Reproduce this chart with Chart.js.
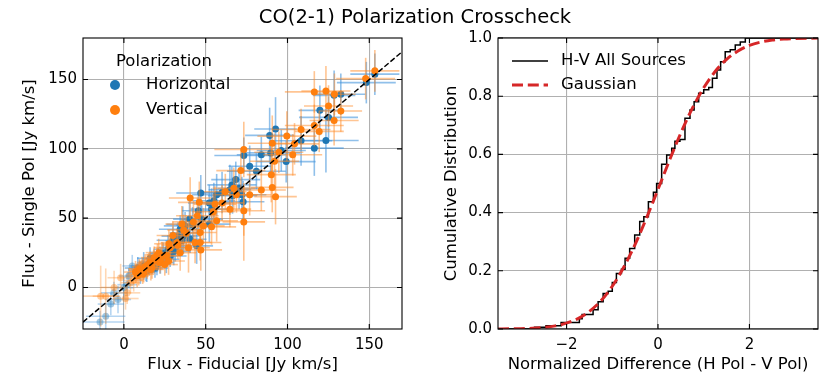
<!DOCTYPE html>
<html><head><meta charset="utf-8">
<script src="https://cdn.jsdelivr.net/npm/chart.js@4.4.0/dist/chart.umd.min.js"></script>
<style>
html,body{margin:0;padding:0;background:#fff;}
#wrap{position:relative;width:830px;height:388px;overflow:hidden;background:#fff;}
canvas{position:absolute;left:0;top:0;}
#title{position:absolute;left:0;width:830px;top:6px;line-height:22px;text-align:center;font-family:"DejaVu Sans";font-size:19.5px;color:#000;}
</style></head><body>
<div id="wrap">
<canvas id="left" width="830" height="388"></canvas>
<canvas id="right" width="830" height="388"></canvas>
<div id="title">CO(2-1) Polarization Crosscheck</div>
</div>
<script>
// ---------- Left panel: flux comparison ----------
const leftXTicks = [0, 50, 100, 150];
const leftYTicks = [0, 50, 100, 150];
const oneToOne = [-25, 170];

// Horizontal polarization (blue)
const hFlux = [153.4,148.2,128.5,132.6,119.8,125.1,123.5,116.4,108.3,92.7, 89.1,89.7,73.3,96.2,99.2,84.0,76.9,81.0,68.4,70.4, 66.4,72.9,64.8,72.1,47.0,56.7,52.2,53.6,45.5,52.2, 47.6,40.1,37.4,34.4,36.4,35.4,44.5,40.5,31.4,28.3, 25.9,22.3,17.2,12.1,10.1,20.2,14.0,24.0,30.0,16.0, 60.0,55.0,66.0,38.0,42.0,8.5,19.0, 9.5,11.5,13.5,15.5,18.5,21.0,27.0,33.0,30.5,36.0];
const hSingle = [153.9,147.8,138.6,139.4,127.8,122.7,106.0,100.5,105.8,114.3, 109.7,97.1,95.2,98.8,90.8,95.7,87.4,83.8,77.8,71.5, 66.2,61.8,70.5,66.9,68.1,66.9,60.9,56.5,55.3,45.7, 49.3,49.3,44.4,42.0,37.2,33.6,30.0,34.8,28.7,22.7, 20.3,17.9,17.9,15.5,10.6,16.7,12.0,24.5,34.0,21.0, 68.5,62.5,74.0,39.5,45.0,14.0,14.0, 12.5,14.5,11.5,16.5,18.5,20.5,27.5,37.0,26.0,45.5];
const hFluxErr = [15,18,13,15,13,18,20,18,19,13, 15,18,18,15,18,15,13,18,15,13, 15,13,13,15,15,15,13,13,10,13, 13,10,13,13,10,10,10,10,10,10, 8,8,8,8,8,8,7,8,10,8, 13,13,15,10,10,8,8, 7,7,7,8,8,8,9,10,10,10];
const hSingleErr = [15,15,18,15,18,15,23,20,18,23, 20,15,13,15,15,13,15,13,13,15, 13,15,18,13,13,15,13,15,13,13, 10,13,10,10,13,10,13,10,10,8, 10,8,8,10,8,8,8,8,10,8, 15,13,13,10,13,8,7, 7,7,7,8,8,8,9,10,10,13];
const hFaintFlux = [-14.6,-11.1,-3.6,-6.1,0.0,3.0,5.1,-8.0,2.0];
const hFaintSingle = [-24.9,-20.8,-8.7,-3.9,-0.2,8.2,15.5,-12.0,2.0];
const hFaintFluxErr = [15,12,8,8,6,6,6,8,6];
const hFaintSingleErr = [8,10,10,8,8,6,8,8,8];

// Vertical polarization (orange)
const vFlux = [147.8,153.4,116.4,123.5,128.7,125.1,132.6,128.5,116.4,119.4, 108.3,99.6,104.3,90.7,73.3,94.7,103.2,92.1,71.5,90.1, 90.7,84.0,92.7,67.2,68.8,76.9,73.3,64.8,73.3,40.5, 55.7,46.1,54.7,44.9,56.7,42.5,48.6,53.6,46.6,35.4, 38.1,39.5,43.5,46.6,47.0,32.4,34.4,28.3,27.3,23.3, 21.3,20.2,18.2,15.2,14.2,11.1,9.1,8.1,7.1,12.1, 17.2,10.0,13.0,16.0,22.0,26.0,25.0,60.0,62.0, 10.5,12.5,14.5,18.5,9.5,11.5,20.5,16.5,22.5,27.5,30.0,33.0,36.5];
const vSingle = [150.7,156.3,141.1,141.8,139.4,130.9,127.3,120.5,116.9,112.6, 114.0,109.2,103.6,104.1,99.5,97.6,95.7,91.1,84.3,81.4, 72.2,70.3,65.5,71.5,66.9,66.9,55.3,56.5,47.3,64.5, 60.1,61.4,54.6,51.7,48.1,47.3,44.4,43.7,39.6,45.7, 39.1,28.7,32.4,32.4,27.1,32.4,25.1,28.7,19.1,22.7, 25.1,20.3,19.1,16.7,14.3,13.0,9.4,8.2,11.1,10.6, 14.3,12.0,15.0,18.0,18.0,23.0,16.5,61.0,69.0, 11.5,13.5,16.0,21.5,13.5,9.5,23.5,13.0,20.5,31.5,37.5,30.5,41.5];
const vFluxErr = [18,15,18,15,13,15,13,15,18,15, 18,18,15,15,18,15,18,15,15,15, 13,15,13,13,13,13,13,13,13,13, 13,13,13,13,13,13,13,15,10,10, 10,13,10,13,13,10,10,10,10,8, 8,8,8,8,8,8,7,7,7,7, 8,7,8,8,8,8,8,13,13, 7,7,8,8,7,7,8,8,8,9,10,10,10];
const vSingleErr = [15,15,15,18,15,15,15,18,15,15, 15,18,15,20,20,15,15,20,15,20, 18,15,20,15,13,15,18,13,28,15, 13,15,13,13,15,15,13,13,13,13, 13,18,15,13,15,10,13,10,10,10, 10,8,8,8,8,8,8,8,8,7, 8,7,8,8,8,8,8,13,13, 7,7,8,8,7,7,8,8,8,10,10,10,11];
const vFaintFlux = [-14.2,-11.1,2.0,4.0,-2.0,6.0,-6.0,1.0];
const vFaintSingle = [-6.3,-6.3,-3.9,3.4,7.0,5.0,0.0,-8.0];
const vFaintFluxErr = [12,8,8,6,8,6,8,8];
const vFaintSingleErr = [22,20,8,8,10,8,12,8];

// ---------- Right panel: cumulative distribution ----------
const rightXTicks = [-2, 0, 2];
const rightXLabels = ['\u22122', '0', '2'];
const rightYTicks = [0, 0.2, 0.4, 0.6, 0.8, 1.0];
const rightYLabels = ['0.0', '0.2', '0.4', '0.6', '0.8', '1.0'];
// empirical CDF steps (position of step, level after step)
const stepX = [-3.5,-2.70,-2.45,-2.12,-1.72,-1.66,-1.42,-1.31,-1.20,-1.09,-1.00,-0.91,-0.80,-0.72,-0.62,-0.51,-0.40,-0.31,-0.21,-0.10,-0.03,0.08,0.19,0.30,0.37,0.48,0.59,0.70,0.79,0.89,1.00,1.11,1.19,1.29,1.37,1.47,1.58,1.69,1.80,1.91,3.5];
const stepY = [0,0.006,0.011,0.022,0.035,0.050,0.066,0.094,0.122,0.130,0.160,0.191,0.205,0.243,0.277,0.323,0.369,0.386,0.437,0.470,0.500,0.566,0.598,0.621,0.645,0.651,0.724,0.753,0.781,0.810,0.822,0.830,0.862,0.890,0.918,0.953,0.960,0.976,0.986,1.0,1.0];
// Gaussian reference curve
const gaussX = [-3.5,-3.25,-3.0,-2.75,-2.5,-2.25,-2.0,-1.75,-1.5,-1.25,-1.0,-0.75,-0.5,-0.25,0.0,0.25,0.5,0.75,1.0,1.25,1.5,1.75,2.0,2.25,2.5,2.75,3.0,3.25,3.5];
const gaussY = [0.0002,0.0005,0.0011,0.0026,0.0054,0.0107,0.0202,0.0359,0.0606,0.0968,0.1469,0.2119,0.2912,0.3821,0.4801,0.5793,0.6736,0.7580,0.8289,0.8849,0.9265,0.9554,0.9744,0.9861,0.9929,0.9965,0.9984,0.9993,0.9997];

const FONT = '"DejaVu Sans"';
const pts = (xs, ys) => xs.map((v, i) => ({x: v, y: ys[i]}));

const errorBars = {
  id: 'errorBars',
  beforeDatasetDraw(chart, args) {
    const ds = chart.data.datasets[args.index];
    if (!ds.errX) return;
    const {ctx, chartArea: a, scales: {x, y}} = chart;
    ctx.save();
    ctx.beginPath(); ctx.rect(a.left, a.top, a.width, a.height); ctx.clip();
    ctx.strokeStyle = ds.errColor; ctx.lineWidth = 1.6;
    ds.data.forEach((p, i) => {
      const px = x.getPixelForValue(p.x), py = y.getPixelForValue(p.y);
      ctx.beginPath();
      ctx.moveTo(x.getPixelForValue(p.x - ds.errX[i]), py);
      ctx.lineTo(x.getPixelForValue(p.x + ds.errX[i]), py);
      ctx.stroke();
      ctx.beginPath();
      ctx.moveTo(px, y.getPixelForValue(p.y - ds.errY[i]));
      ctx.lineTo(px, y.getPixelForValue(p.y + ds.errY[i]));
      ctx.stroke();
    });
    ctx.restore();
  }
};

const frame = {
  id: 'frame',
  afterDraw(chart) {
    const {ctx, chartArea: a, scales: {x, y}} = chart;
    ctx.save();
    ctx.strokeStyle = '#000'; ctx.lineWidth = 1.1;
    ctx.strokeRect(a.left, a.top, a.right - a.left, a.bottom - a.top);
    const L = 5;
    ctx.beginPath();
    x.ticks.forEach(t => {
      const p = x.getPixelForValue(t.value);
      ctx.moveTo(p, a.bottom); ctx.lineTo(p, a.bottom - L);
      ctx.moveTo(p, a.top); ctx.lineTo(p, a.top + L);
    });
    y.ticks.forEach(t => {
      const p = y.getPixelForValue(t.value);
      ctx.moveTo(a.left, p); ctx.lineTo(a.left + L, p);
      ctx.moveTo(a.right, p); ctx.lineTo(a.right - L, p);
    });
    ctx.stroke();
    ctx.restore();
  }
};

const panelLegend = {
  id: 'panelLegend',
  afterDraw(chart, args, opts) {
    if (!opts || !opts.items) return;
    const {ctx, chartArea: a} = chart;
    ctx.save();
    ctx.font = '16.5px ' + FONT; ctx.textBaseline = 'middle'; ctx.textAlign = 'left';
    if (opts.title) { ctx.fillStyle = '#000'; ctx.fillText(opts.title, a.left + opts.titleDx, a.top + opts.titleDy); }
    opts.items.forEach(it => {
      const yy = a.top + it.dy;
      if (it.kind === 'marker') {
        ctx.beginPath(); ctx.arc(a.left + it.hx, yy, 5, 0, 2 * Math.PI);
        ctx.fillStyle = it.color; ctx.fill();
      } else {
        ctx.beginPath(); ctx.setLineDash(it.dash || []);
        ctx.strokeStyle = it.color; ctx.lineWidth = it.lw;
        ctx.moveTo(a.left + it.hx0, yy); ctx.lineTo(a.left + it.hx1, yy); ctx.stroke();
        ctx.setLineDash([]);
      }
      ctx.fillStyle = '#000'; ctx.fillText(it.text, a.left + it.tx, yy);
    });
    ctx.restore();
  }
};

function axis(opts) {
  return {
    type: 'linear', min: opts.min, max: opts.max,
    afterBuildTicks(s) { s.ticks = opts.ticks.map(v => ({value: v})); },
    afterFit(s) { if (opts.width) s.width = opts.width; if (opts.height) s.height = opts.height; },
    grid: {color: '#b0b0b0', lineWidth: 1.1, drawTicks: false},
    border: {display: false},
    ticks: {padding: opts.pad, color: '#000', font: {family: FONT, size: 15},
      callback: (v, i) => opts.labels ? opts.labels[opts.ticks.indexOf(v)] : String(v)},
    title: {display: true, text: opts.title, color: '#000', font: {family: FONT, size: 16.5}, padding: opts.titlePad}
  };
}

const common = {responsive: false, animation: false, devicePixelRatio: 1, events: []};

new Chart(document.getElementById('left'), {
  type: 'scatter',
  data: {datasets: [
    {label: '1:1', data: pts(oneToOne, oneToOne), showLine: true, borderColor: '#000', borderWidth: 1.5, borderDash: [5.5, 2.4], pointRadius: 0, order: 0},
    {label: 'Vertical', data: pts(vFlux, vSingle), errX: vFluxErr, errY: vSingleErr, errColor: 'rgba(255,140,40,0.5)', backgroundColor: '#ff7f0e', borderWidth: 0, pointRadius: 3.5, order: 1},
    {label: 'Vertical faint', data: pts(vFaintFlux, vFaintSingle), errX: vFaintFluxErr, errY: vFaintSingleErr, errColor: 'rgba(255,140,40,0.35)', backgroundColor: 'rgba(255,127,14,0.4)', borderWidth: 0, pointRadius: 3.5, order: 2},
    {label: 'Horizontal', data: pts(hFlux, hSingle), errX: hFluxErr, errY: hSingleErr, errColor: 'rgba(70,150,220,0.6)', backgroundColor: '#1f77b4', borderWidth: 0, pointRadius: 3.5, order: 3},
    {label: 'Horizontal faint', data: pts(hFaintFlux, hFaintSingle), errX: hFaintFluxErr, errY: hFaintSingleErr, errColor: 'rgba(70,150,220,0.4)', backgroundColor: 'rgba(31,119,180,0.4)', borderWidth: 0, pointRadius: 3.5, order: 4}
  ]},
  options: Object.assign({}, common, {
    layout: {padding: {left: 0, right: 428, top: 38, bottom: 0}},
    plugins: {legend: {display: false}, tooltip: {enabled: false},
      panelLegend: {title: 'Polarization', titleDx: 33, titleDy: 24, items: [
        {kind: 'marker', color: '#1f77b4', hx: 32, dy: 47, tx: 63, text: 'Horizontal'},
        {kind: 'marker', color: '#ff7f0e', hx: 32, dy: 72, tx: 63, text: 'Vertical'}
      ]}},
    scales: {
      x: axis({min: -25, max: 170, ticks: leftXTicks, height: 59, pad: 7, title: 'Flux - Fiducial [Jy km/s]', titlePad: {top: 0, bottom: 13}}),
      y: axis({min: -30, max: 180, ticks: leftYTicks, width: 83, pad: 6, title: 'Flux - Single Pol [Jy km/s]', titlePad: {top: 20, bottom: 0}})
    }
  }),
  plugins: [errorBars, frame, panelLegend]
});

new Chart(document.getElementById('right'), {
  type: 'scatter',
  data: {datasets: [
    {label: 'Gaussian', data: pts(gaussX, gaussY), showLine: true, borderColor: '#d62728', borderWidth: 3, borderDash: [11, 4.8], pointRadius: 0, cubicInterpolationMode: 'monotone', order: 0},
    {label: 'H-V All Sources', data: pts(stepX, stepY), showLine: true, stepped: 'before', borderColor: '#000', borderWidth: 1.5, pointRadius: 0, order: 1}
  ]},
  options: Object.assign({}, common, {
    layout: {padding: {left: 415, right: 12, top: 38, bottom: 0}},
    plugins: {legend: {display: false}, tooltip: {enabled: false},
      panelLegend: {items: [
        {kind: 'line', color: '#000', lw: 1.5, hx0: 14, hx1: 50, dy: 23, tx: 63, text: 'H-V All Sources'},
        {kind: 'line', color: '#d62728', lw: 3, dash: [11, 4.8], hx0: 14, hx1: 50, dy: 47, tx: 63, text: 'Gaussian'}
      ]}},
    scales: {
      x: axis({min: -3.5, max: 3.5, ticks: rightXTicks, labels: rightXLabels, height: 59, pad: 7, title: 'Normalized Difference (H Pol - V Pol)', titlePad: {top: 0, bottom: 13}}),
      y: axis({min: 0, max: 1, ticks: rightYTicks, labels: rightYLabels, width: 83, pad: 6, title: 'Cumulative Distribution', titlePad: {top: 27, bottom: 0}})
    }
  }),
  plugins: [frame, panelLegend]
});
</script>
</body></html>
